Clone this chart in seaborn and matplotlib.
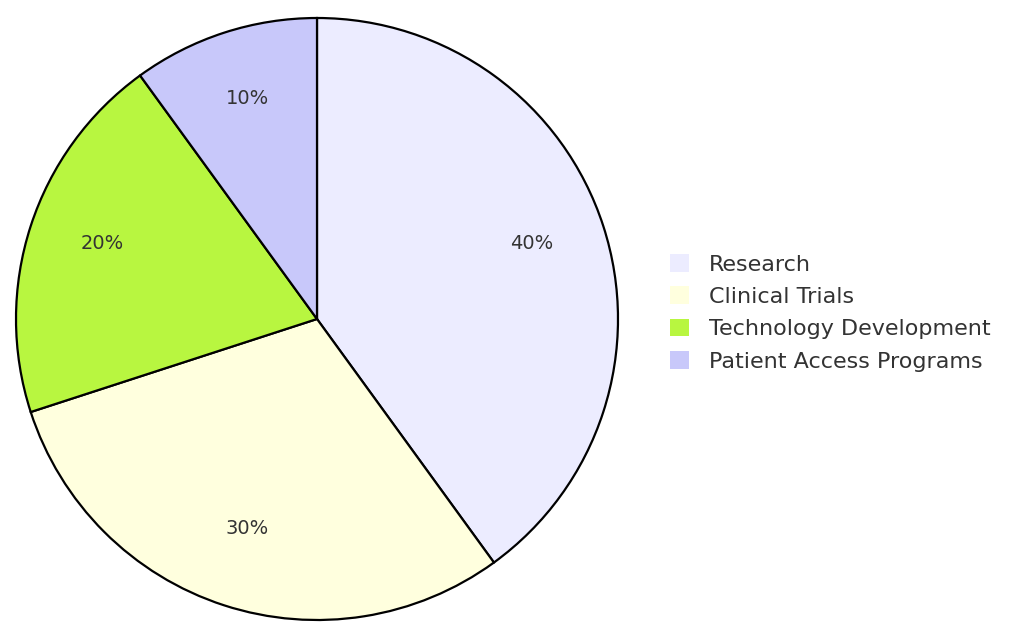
import matplotlib
matplotlib.use("Agg")
import matplotlib.pyplot as plt
import seaborn as sns

# budget split
categories = ["Research", "Clinical Trials", "Technology Development", "Patient Access Programs"]
shares = [40, 30, 20, 10]
colors = ["#ECECFF", "#FFFFDE", "#B8F640", "#C8C8FA"]

sns.set_theme(style="white")
plt.rcParams["font.family"] = ["DejaVu Sans"]

fig = plt.figure(figsize=(10.2, 6.26), dpi=100)
# pie: centre ~(317, 319) px, radius ~301 px
ax = fig.add_axes([16 / 1020, 6 / 626, 602 / 1020, 602 / 626])

wedges, texts, autotexts = ax.pie(
    shares,
    colors=colors,
    startangle=90,
    counterclock=False,
    autopct="%1.0f%%",
    pctdistance=0.75,
    wedgeprops=dict(edgecolor="black", linewidth=1.6),
    textprops=dict(fontsize=14, color="#333333"),
)
# labels sit on their baseline, like the original
for t in autotexts:
    t.set_verticalalignment("baseline")

ax.set_aspect("equal")
ax.set_xlim(-1, 1)
ax.set_ylim(-1, 1)
ax.axis("off")

fig.legend(
    wedges, categories,
    loc="upper left",
    bbox_to_anchor=(670 / 1020, 1 - 254 / 626),
    frameon=False,
    fontsize=16,
    borderpad=0,
    borderaxespad=0,
    handlelength=0.85,
    handleheight=0.85,
    handletextpad=0.9,
    labelspacing=0.53,
    labelcolor="#333333",
)
# legend swatches have no outline
for h in fig.legends[0].legend_handles:
    h.set_edgecolor("none")

fig.savefig("out.png", dpi=100)
